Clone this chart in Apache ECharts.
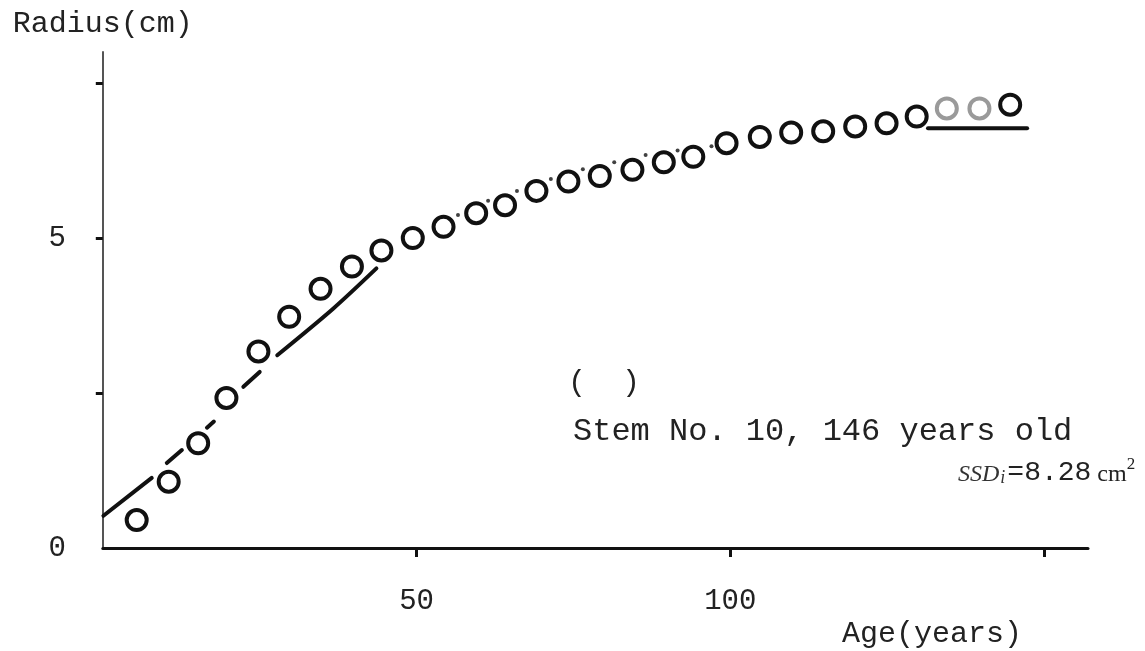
<!DOCTYPE html>
<html>
<head>
<meta charset="utf-8">
<script src="https://cdn.jsdelivr.net/npm/echarts@6/dist/echarts.min.js"></script>
<style>
  html, body { margin: 0; padding: 0; background: #fff; }
  #chart { width: 1145px; height: 651px; }
</style>
</head>
<body>
<div id="chart"></div>
<script>
// Measured stem radius (cm) at each age (years)
const ages = [5.4, 10.5, 15.2, 19.7, 24.8, 29.7, 34.7, 39.7, 44.4, 49.4,
              54.3, 59.5, 64.1, 69.1, 74.2, 79.2, 84.4, 89.4, 94.1, 99.4,
              104.7, 109.7, 114.8, 119.9, 124.9, 129.7, 134.5, 139.7, 144.6];
const radii = [0.45, 1.07, 1.69, 2.42, 3.17, 3.73, 4.18, 4.54, 4.80, 5.00,
               5.18, 5.40, 5.53, 5.76, 5.91, 6.00, 6.10, 6.22, 6.31, 6.53,
               6.63, 6.70, 6.72, 6.80, 6.85, 6.96, 7.09, 7.09, 7.15];

// Dotted trace between the circles
const dotAges  = [56.6, 61.4, 66.0, 71.4, 76.5, 81.5, 86.5, 91.6, 97.0];
const dotRadii = [5.37, 5.60, 5.76, 5.95, 6.11, 6.22, 6.34, 6.41, 6.48];

// Fitted curve, drawn as broken pieces around the circles
const fitSeg1 = [[0.1, 0.52], [7.8, 1.13]];
const fitSeg2 = [[10.2, 1.37], [12.6, 1.58]];
const fitSeg3 = [[16.6, 1.94], [17.7, 2.04]];
const fitSeg4 = [[22.4, 2.60], [25.0, 2.84]];
const fitSeg5 = [[27.8, 3.11], [36.7, 3.86], [43.6, 4.51]];
const fitSeg6 = [[131.5, 6.77], [147.3, 6.77]];

// Axis ticks and labels
const xTicks = [50, 100, 150];
const xLabels = [50, 100];
const yTicks = [2.5, 5, 7.5];
const yLabels = [0, 5];

const MONO = '"Liberation Mono", "Courier New", monospace';
const SERIF = '"Liberation Serif", serif';
const INK = '#111';

const chart = echarts.init(document.getElementById('chart'), null, { renderer: 'canvas' });

// the two circles near 135 and 140 years are printed faintly
const circleData = ages.map((a, i) => {
  const faded = a > 133 && a < 141;
  return {
    value: [a, radii[i]],
    itemStyle: faded ? { borderColor: '#9a9a9a' } : undefined
  };
});

function segment(data) {
  return {
    type: 'line',
    data: data,
    showSymbol: false,
    symbol: 'none',
    smooth: data.length > 2 ? 0.3 : false,
    silent: true,
    z: 2,
    lineStyle: { color: INK, width: 4, cap: 'round' }
  };
}

chart.setOption({
  animation: false,
  backgroundColor: '#fff',
  grid: { left: 102.8, right: 57, top: 52, bottom: 103 },
  xAxis: {
    type: 'value',
    min: 0,
    max: 157,
    interval: 50,
    axisLine: { show: true, lineStyle: { color: INK, width: 3 } },
    axisTick: { show: true, customValues: xTicks, length: 9, lineStyle: { color: INK, width: 3 } },
    axisLabel: {
      customValues: xLabels,
      fontFamily: MONO, fontSize: 29, color: '#222', margin: 39
    },
    splitLine: { show: false }
  },
  yAxis: {
    type: 'value',
    min: 0,
    max: 8,
    interval: 2.5,
    name: 'Radius(cm)',
    nameLocation: 'end',
    nameGap: 13,
    nameTextStyle: { fontFamily: MONO, fontSize: 30, color: '#222', align: 'center' },
    axisLine: { show: true, lineStyle: { color: '#555', width: 2 } },
    axisTick: { show: true, customValues: yTicks, length: 7, lineStyle: { color: INK, width: 3 } },
    axisLabel: {
      customValues: yLabels,
      fontFamily: MONO, fontSize: 29, color: '#222', margin: 37
    },
    splitLine: { show: false }
  },
  series: [
    segment(fitSeg1),
    segment(fitSeg2),
    segment(fitSeg3),
    segment(fitSeg4),
    segment(fitSeg5),
    segment(fitSeg6),
    {
      type: 'scatter',
      data: dotAges.map((a, i) => [a, dotRadii[i]]),
      symbol: 'circle',
      symbolSize: 4,
      itemStyle: { color: INK },
      z: 3
    },
    {
      type: 'scatter',
      data: circleData,
      symbol: 'circle',
      symbolSize: 20,
      itemStyle: { color: '#fff', borderColor: INK, borderWidth: 4, opacity: 1 },
      z: 4
    }
  ],
  graphic: [
    {
      type: 'text', left: 568, top: 368,
      style: { text: '(  )', font: '30px ' + MONO, fill: '#222' }
    },
    {
      type: 'text', left: 573, top: 416,
      style: { text: 'Stem No. 10, 146 years old', font: '32px ' + MONO, fill: '#222' }
    },
    {
      type: 'text', left: 958, top: 456,
      style: {
        text: '{it|SSD}{sub|i}{mono|=8.28}{serif| cm}{sup|2}',
        rich: {
          it:   { fontFamily: SERIF, fontStyle: 'italic', fontSize: 24, fill: '#333', verticalAlign: 'bottom' },
          sub:  { fontFamily: SERIF, fontStyle: 'italic', fontSize: 18, fill: '#333', padding: [14, 2, 0, 1], verticalAlign: 'bottom' },
          mono: { fontFamily: MONO, fontSize: 28, fill: '#222', verticalAlign: 'bottom' },
          serif:{ fontFamily: SERIF, fontSize: 24, fill: '#222', verticalAlign: 'bottom' },
          sup:  { fontFamily: SERIF, fontSize: 17, fill: '#222', padding: [0, 0, 14, 0], verticalAlign: 'bottom' }
        }
      }
    },
    {
      type: 'text', right: 123, top: 619,
      style: { text: 'Age(years)', font: '30px ' + MONO, fill: '#222' }
    }
  ]
});
</script>
</body>
</html>
